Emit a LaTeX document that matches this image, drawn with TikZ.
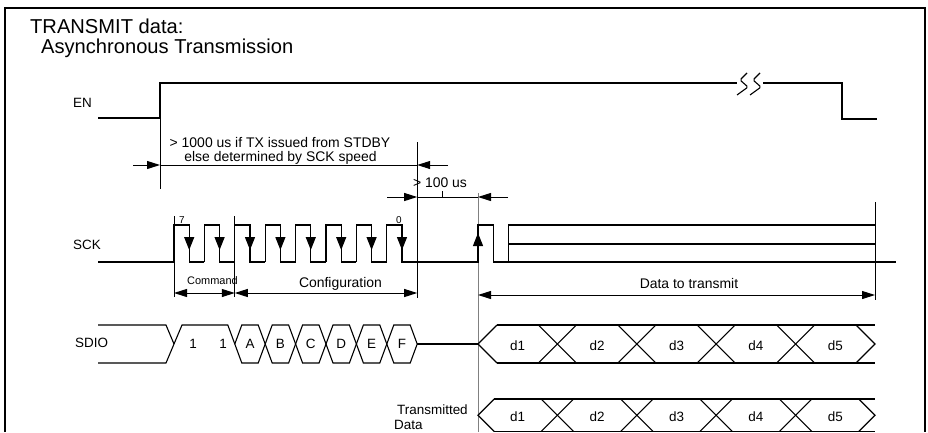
\documentclass[tikz,border=0pt]{standalone}
\usepackage{fontspec}
\setmainfont{Liberation Sans}
\usetikzlibrary{arrows.meta}

\tikzset{
  wave/.style={line width=1.1bp, line join=miter},
  dim/.style={line width=1bp, -{Triangle[length=13bp,width=8bp]}},
  dimboth/.style={line width=1bp, {Triangle[length=13bp,width=8bp]}-{Triangle[length=13bp,width=8bp]}},
  edgearrow/.style={line width=1.1bp, -{Triangle[length=13bp,width=10bp]}},
  siglabel/.style={font=\fontsize{13.5}{16}\selectfont, anchor=base west, inner sep=0pt},
  note/.style={font=\fontsize{14}{17}\selectfont, anchor=base, inner sep=0pt},
  tiny/.style={font=\fontsize{10}{11}\selectfont, anchor=base, inner sep=0pt},
  heading/.style={font=\fontsize{20.2}{22}\selectfont, anchor=base west, inner sep=0pt},
}

\begin{document}
\begin{tikzpicture}[x=1bp, y=-1bp]
            \useasboundingbox (0,0) rectangle (928,432);

            % Frame and title
            \draw[line width=2bp] (5,432) -- (5,8) -- (925,8) -- (925,432);
            \node[heading] (title) at (30,33.5) {TRANSMIT data:};
            \node[heading] (subtitle) at (41,53.5) {Asynchronous Transmission};

            % Signal names
            \node[siglabel] (en) at (73,107.5) {EN};
            \node[siglabel] (sck) at (73,249.5) {SCK};
            \node[siglabel] (sdio) at (75,347) {SDIO};
            \node[siglabel, align=left] (txd) at (394,429) {\hspace*{3bp}Transmitted\\[-1.5bp]Data};

            % Reference lines
            \draw[line width=1bp, gray] (478,193) -- (478,432);
            \draw[line width=1bp] (160,118) -- (160,189);
            \draw[line width=1bp] (174,216) -- (174,297);
            \draw[line width=1bp] (234.8,216) -- (234.8,297);
            \draw[line width=1bp] (417.2,142) -- (417.2,298);
            \draw[line width=1bp] (875,202) -- (875,300);

            % EN
            \draw[wave] (98,118) -- (160,118) -- (160,83) -- (737,83);
            \draw[wave] (763,83) -- (842,83) -- (842,119) -- (877,119);
            \draw[wave, rounded corners=1.5bp] (747,73) -- (740,80) -- (748,87) -- (737,95);
            \draw[wave, rounded corners=1.5bp] (760,73) -- (753,80) -- (761,87) -- (750,95);

            % SCK
            \draw[wave] (98,262) -- (174,262);
            \foreach \i in {0,...,7} {
              \pgfmathsetmacro\xr{174+30.4*\i}
              \draw[wave] (\xr,262) -- (\xr,225) -- (\xr+15.2,225) -- (\xr+15.2,262) -- (\xr+30.4,262);
              \draw[edgearrow] (\xr+15.2,226) -- (\xr+15.2,250);
            }
            \draw[wave] (417.2,262) -- (478,262) -- (478,225) -- (493.2,225) -- (493.2,262) -- (508.4,262) -- (508.4,225) -- (875,225);
            \draw[wave] (508.4,244) -- (875,244);
            \draw[wave] (508.4,262) -- (896,262);
            \draw[edgearrow] (478,261) -- (478,233);
            \node[tiny] (bit7) at (182,223.5) {7};
            \node[tiny] (bit0) at (399,223.5) {0};

            % SDIO
            \draw[wave] (98,325) -- (166,325) -- (174,344);
            \draw[wave] (98,363) -- (166,363) -- (182,325) -- (227.8,325) -- (234.8,344);
            \node[siglabel, anchor=base] (one1) at (193,348) {1};
            \node[siglabel, anchor=base] (one2) at (223,348) {1};
            \foreach \t [count=\i from 0] in {A,B,C,D,E,F} {
              \pgfmathsetmacro\xc{234.8+30.4*\i}
              \draw[wave] (\xc,344) -- (\xc+7,325) -- (\xc+23.4,325) -- (\xc+30.4,344) -- (\xc+23.4,363) -- (\xc+7,363) -- cycle;
              \node[siglabel, anchor=base] (hex\t) at (\xc+15.2,348) {\t};
            }
            \draw[wave] (417.2,344) -- (478,344);

            % Data rows
            \foreach \m/\h/\r/\b in {344/19/s/350, 415.25/16.25/t/421} {
              \draw[wave] (478+\h,\m-\h) -- (478,\m) -- (478+\h,\m+\h);
              \draw[wave] (478+\h,\m-\h) -- (875,\m-\h);
              \draw[wave] (478+\h,\m+\h) -- (875,\m+\h);
              \draw[wave] (875-\h,\m-\h) -- (875,\m) -- (875-\h,\m+\h);
              \foreach \k in {1,...,4} {
                \pgfmathsetmacro\xk{478+79.4*\k}
                \draw[wave] (\xk-\h,\m-\h) -- (\xk+\h,\m+\h);
                \draw[wave] (\xk-\h,\m+\h) -- (\xk+\h,\m-\h);
              }
              \foreach \k in {1,...,5} {
                \pgfmathsetmacro\xk{478+79.4*\k-39.7}
                \node[siglabel, anchor=base] (d\r\k) at (\xk,\b) {d\k};
              }
            }

            % Timing annotations
            \node[note] (stdby1) at (280,147) {> 1000 us if TX issued from STDBY};
            \node[note] (stdby2) at (280.5,161) {else determined by SCK speed};
            \draw[dim] (133,165) -- (160,165);
            \draw[line width=1bp] (160,165) -- (417.2,165);
            \draw[dim] (448,165) -- (417.2,165);

            \node[note] (gap) at (440,187) {> 100 us};
            \draw[dim] (387,197) -- (417.2,197);
            \draw[line width=1bp] (417.2,197) -- (478,197);
            \draw[line width=1bp] (442,191) -- (442,197);
            \draw[dim] (508,197) -- (478,197);

            \node[note, font=\fontsize{11}{13}\selectfont] (cmd) at (212.5,284) {Command};
            \node[note] (cfg) at (340.5,287) {Configuration};
            \node[note] (data) at (689,288) {Data to transmit};
            \draw[dimboth] (174,293) -- (234.8,293);
            \draw[dimboth] (234.8,293) -- (417.2,293);
            \draw[dimboth] (478,295) -- (875,295);
            \end{tikzpicture}
\end{document}
